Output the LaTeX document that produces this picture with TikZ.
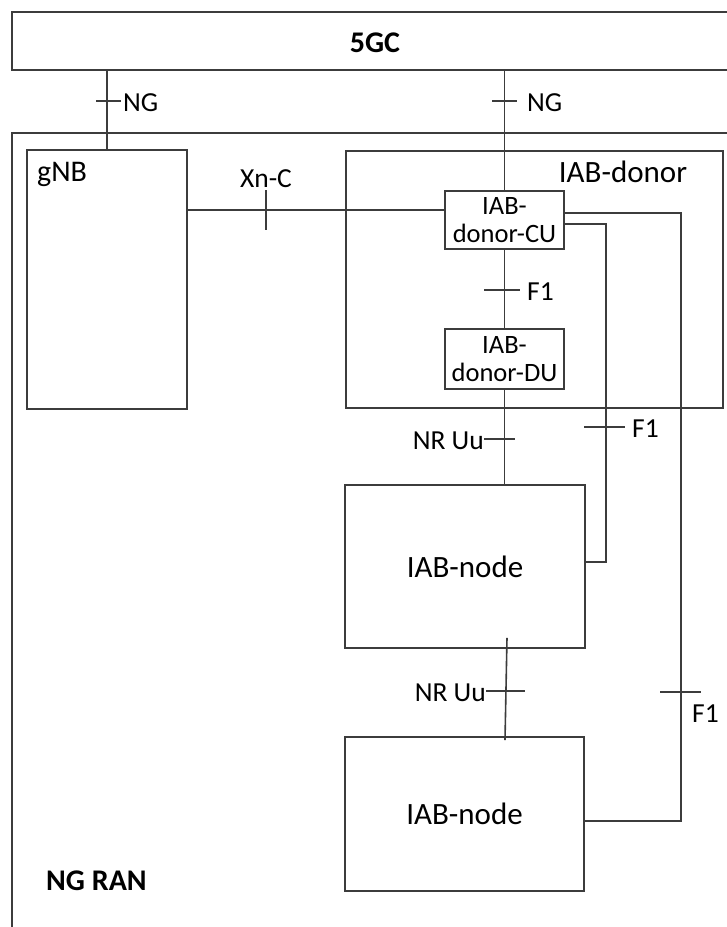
\documentclass[tikz,border=0pt]{standalone}
\usepackage{fontspec}
\setmainfont{Carlito}
\begin{document}
\begin{tikzpicture}[x=1pt,y=-1pt,
  ln/.style={draw=lncol,line width=1.6pt},
  box/.style={ln,rectangle,inner sep=0pt,fill=white},
  lbl/.style={inner sep=0pt,font=\fontsize{27.5}{30}\selectfont},
  bld/.style={inner sep=0pt,font=\fontsize{30}{33}\selectfont\bfseries}]
\definecolor{lncol}{RGB}{60,60,60}
\useasboundingbox (0,0) rectangle (727,927);
\clip (0,0) rectangle (727,927);
% NG RAN frame (open right and bottom)
\draw[ln] (12,940) -- (12,133) -- (740,133);
\node[bld,anchor=west] (ngranlbl) at (46,881) {NG RAN};
% boxes
\node[box,minimum width=728pt,minimum height=58pt] (fivegc) at (376,41) {};
\node[bld] (fivegclbl) at (375,43) {5GC};
\node[box,minimum width=160pt,minimum height=259pt] (gnb) at (107,279.5) {};
\node[inner sep=0pt,anchor=west,font=\fontsize{30}{33}\selectfont] (gnblbl) at (37,174) {gNB};
\node[box,minimum width=377pt,minimum height=257pt] (donor) at (534.5,279.5) {};
\node[inner sep=0pt,font=\fontsize{31}{34}\selectfont] (donorlbl) at (623,172) {IAB-donor};
\node[box,minimum width=119pt,minimum height=58pt,align=center,font=\fontsize{26.5}{28}\selectfont] (cu) at (504.5,220) {IAB-\\donor-CU};
\node[box,minimum width=119pt,minimum height=60pt,align=center,font=\fontsize{26.5}{28}\selectfont] (du) at (504.5,359) {IAB-\\donor-DU};
\node[box,minimum width=240pt,minimum height=163pt,font=\fontsize{31}{34}\selectfont] (n1) at (465,566.5) {IAB-node};
\node[box,minimum width=239pt,minimum height=154pt,font=\fontsize{31}{34}\selectfont] (n2) at (464.5,814) {IAB-node};
% connectors
\draw[ln] (fivegc.south -| gnb.north) -- (gnb.north);
\draw[ln] (fivegc.south -| cu.north) -- (cu.north);
\coordinate (xnend) at ([yshift=10pt]cu.west);
\draw[ln] (xnend -| gnb.east) -- (xnend);
\draw[ln] (cu.south) -- (du.north);
\draw[ln] (du.south) -- (du.south |- n1.north);
\draw[ln] ([xshift=42pt,yshift=11pt]n1.south) -- ([xshift=40.5pt,yshift=-4pt]n2.north);
\draw[ln] ([yshift=-4pt]cu.east) -- ++(41,0) |- ([yshift=4.5pt]n1.east);
\draw[ln] ([yshift=7pt]cu.east) -- ++(116,0) |- ([yshift=-7pt]n2.east);
% ticks and labels
\draw[ln] (96,101) -- (121,101);
\node[lbl,anchor=west] (ng1) at (123,103) {NG};
\draw[ln] (492,101) -- (517,101);
\node[lbl,anchor=west] (ng2) at (527,103) {NG};
\draw[ln] (266,190) -- (266,230);
\node[lbl] (xnc) at (266,179) {Xn-C};
\draw[ln] (484,290) -- (520,290);
\node[lbl,anchor=west] (f1a) at (527,292) {F1};
\draw[ln] (484,439) -- (515,439);
\node[lbl,anchor=east] (nruu1) at (484,441) {NR Uu};
\draw[ln] (584,427) -- (625,427);
\node[lbl,anchor=west] (f1b) at (632,429) {F1};
\draw[ln] (486,691) -- (525,691);
\node[lbl,anchor=east] (nruu2) at (486,693) {NR Uu};
\draw[ln] (660,692) -- (701,692);
\node[lbl,anchor=west] (f1c) at (692,714) {F1};
\end{tikzpicture}
\end{document}
